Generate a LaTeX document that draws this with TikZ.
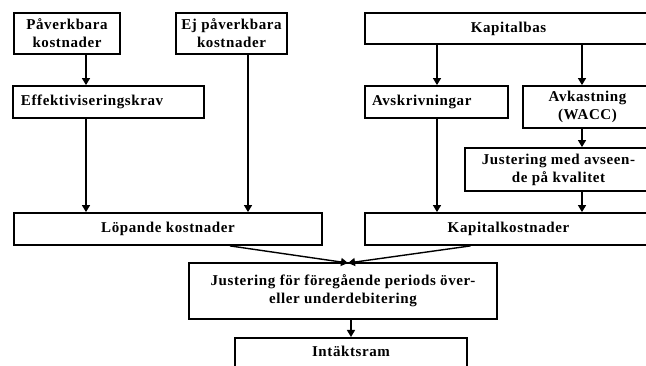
\documentclass[tikz,border=0pt]{standalone}
\usepackage{fontspec}
\setmainfont{Liberation Serif}[LetterSpace=4]
\usetikzlibrary{arrows.meta,calc}
\begin{document}
\begin{tikzpicture}[x=1pt,y=-1pt,
  lbl/.style={font=\fontsize{15}{18}\selectfont\bfseries},
  box/.style={draw=black,line width=1.8pt,fill=white,inner sep=0pt,align=center,lbl},
  arr/.style={line width=1.4pt,-{Triangle[width=8pt,length=7pt]}}]
\useasboundingbox (0,0) rectangle (646,366);
\clip (0,0) rectangle (646,366);
% left column
\node[box,minimum width=106pt,minimum height=41pt] (p1) at (67,33.5) {Påverkbara\\kostnader};
\node[box,minimum width=111pt,minimum height=41pt] (p2) at (231.5,33.5) {Ej påverkbara\\kostnader};
\node[box,minimum width=191pt,minimum height=32pt,text width=185pt,align=left] (eff) at (108.5,102) {\hspace*{5pt}Effektiviseringskrav};
\node[box,minimum width=308pt,minimum height=32pt] (lop) at (168,229) {Löpande kostnader};
% right column
\node[box,minimum width=287pt,minimum height=31pt] (kb) at (508.5,28.5) {Kapitalbas};
\node[box,minimum width=143pt,minimum height=32pt,text width=137pt,align=left] (avs) at (436.5,102) {\hspace*{4pt}Avskrivningar};
\node[box,minimum width=129pt,minimum height=42pt] (avk) at (587.5,107) {Avkastning\\(WACC)};
\node[box,minimum width=187pt,minimum height=43pt] (jm) at (558.5,169.5) {Justering med avseen-\\de på kvalitet};
\node[box,minimum width=287pt,minimum height=32pt] (kk) at (508.5,229) {Kapitalkostnader};
% bottom
\node[box,minimum width=308pt,minimum height=56pt] (jf) at (343,291) {Justering för föregående periods över-\\eller underdebitering};
\node[box,minimum width=232pt,minimum height=40pt,anchor=north] (ir) at (351,337) {};
\node[lbl] (irt) at (351,351) {Intäktsram};
% named coordinates for arrow columns
\coordinate (xa) at (86,0);
\coordinate (xb) at (248,0);
\coordinate (xc) at (437,0);
\coordinate (xd) at (582,0);
\coordinate (m) at (348,263);
% connectors
\draw[arr] (p1.south -| xa) -- (eff.north -| xa);
\draw[arr] (eff.south -| xa) -- (lop.north -| xa);
\draw[arr] (p2.south -| xb) -- (lop.north -| xb);
\draw[arr] (kb.south -| xc) -- (avs.north -| xc);
\draw[arr] (kb.south -| xd) -- (avk.north -| xd);
\draw[arr] (avs.south -| xc) -- (kk.north -| xc);
\draw[arr] (avk.south -| xd) -- (jm.north -| xd);
\draw[arr] (jm.south -| xd) -- (kk.north -| xd);
\draw[arr] ([xshift=62pt]lop.south) -- (m);
\draw[arr] ([xshift=-38pt]kk.south) -- (m);
\draw[arr] ([xshift=8pt]jf.south) -- (ir.north);
\end{tikzpicture}
\end{document}
